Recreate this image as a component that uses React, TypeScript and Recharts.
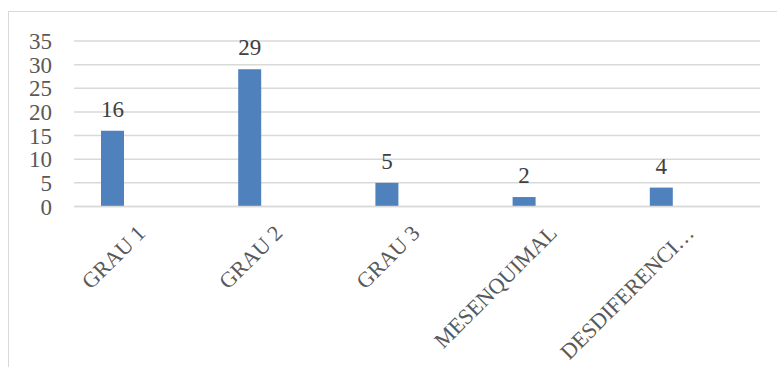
import React from 'react';
import { BarChart, Bar, XAxis, YAxis, CartesianGrid, LabelList } from 'recharts';

// Tumour grade categories and their case counts
const categories = ['GRAU 1', 'GRAU 2', 'GRAU 3', 'MESENQUIMAL', 'DESDIFERENCI…'];
const counts = [16, 29, 5, 2, 4];
// second series slot kept empty, as in the original workbook
const emptySeries: (number | null)[] = [null, null, null, null, null];
const yTicks = [0, 5, 10, 15, 20, 25, 30, 35];

const data = categories.map((name, i) => ({ name, count: counts[i], empty: emptySeries[i] }));

const FONT = '"Liberation Serif", "DejaVu Serif", serif';
const TEXT = '#595959';

const CategoryTick = (props: any) => {
  const { x, y, payload } = props;
  return (
    <g transform={`translate(${x + 4},${y + 28})`}>
      <text
        textAnchor="end"
        transform="rotate(-45)"
        fontFamily={FONT}
        fontSize={22}
        fill={TEXT}
      >
        {payload.value}
      </text>
    </g>
  );
};

export default function App() {
  return (
    <div style={{ position: 'fixed', left: 0, top: 0, width: 777, height: 367, background: '#fff' }}>
      <div
        style={{
          position: 'absolute',
          left: 8,
          top: 11,
          right: -2,
          bottom: -2,
          borderLeft: '1.5px solid #d9d9d9',
          borderTop: '1.5px solid #d9d9d9',
        }}
      />
      <BarChart
        width={777}
        height={367}
        data={data}
        margin={{ top: 41, right: 17, bottom: 10.5, left: 14 }}
        barSize={23}
        barGap={38}
      >
        <CartesianGrid vertical={false} stroke="#d9d9d9" strokeWidth={1.5} />
        <XAxis
          dataKey="name"
          height={150}
          axisLine={{ stroke: '#d9d9d9', strokeWidth: 1.5 }}
          tickLine={false}
          tickSize={0}
          tickMargin={0}
          interval={0}
          tick={<CategoryTick />}
        />
        <YAxis
          width={60}
          domain={[0, 35]}
          ticks={yTicks}
          axisLine={false}
          tickLine={false}
          tickSize={0}
          tickMargin={22}
          tick={{ fontFamily: FONT, fontSize: 23, fill: TEXT }}
          interval={0}
        />
        <Bar dataKey="count" fill="#4f81bd" isAnimationActive={false}>
          <LabelList
            dataKey="count"
            position="top"
            offset={14}
            fontFamily={FONT}
            fontSize={23}
            fill="#404040"
          />
        </Bar>
        <Bar dataKey="empty" fill="#c0504d" isAnimationActive={false} />
      </BarChart>
    </div>
  );
}
